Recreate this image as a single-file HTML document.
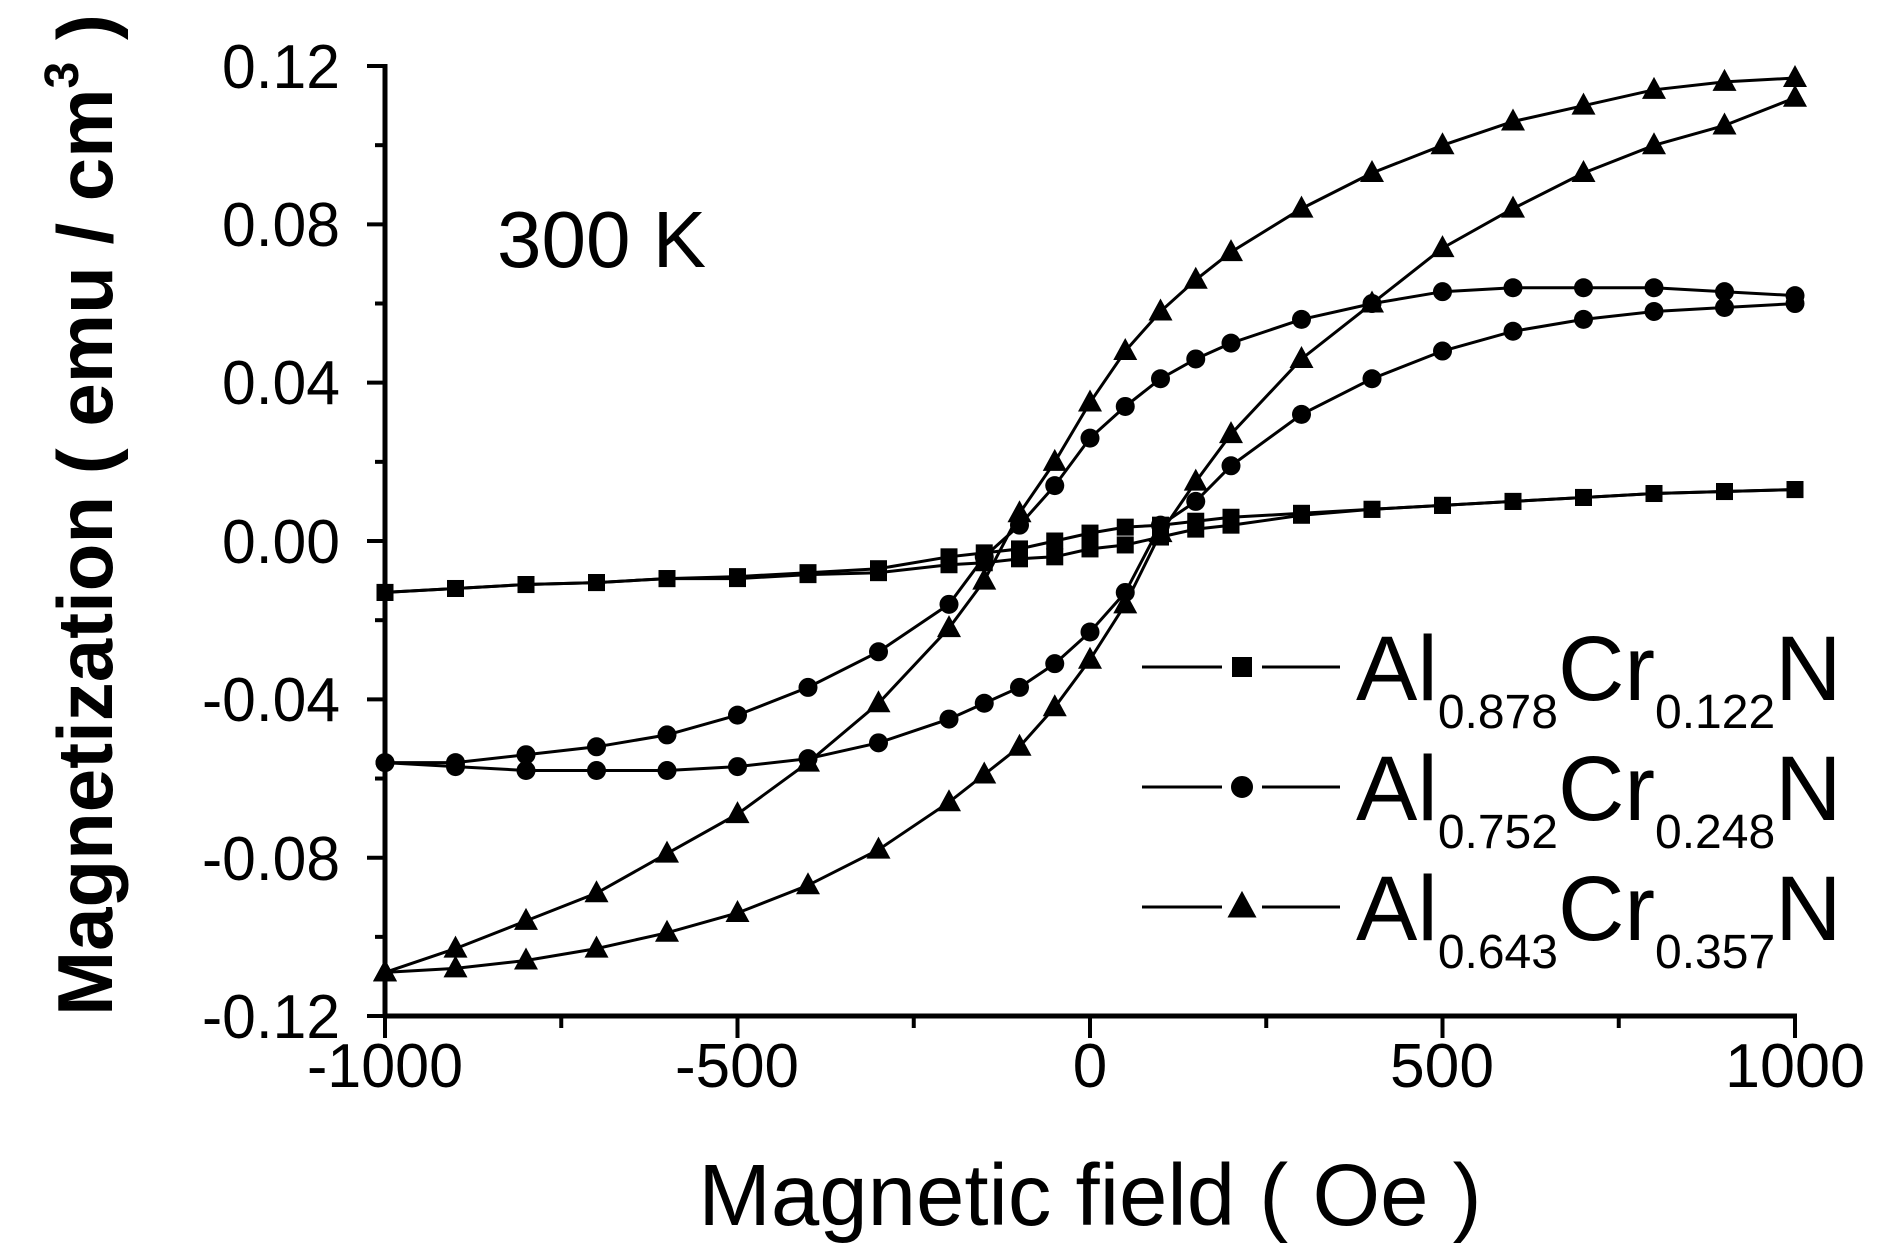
<!DOCTYPE html>
<html><head><meta charset="utf-8"><style>
html,body{margin:0;padding:0;background:#fff;}
svg{display:block;}
text{font-family:"Liberation Sans",sans-serif;fill:#000;}
</style></head><body>
<svg id="s" width="1885" height="1258" xmlns="http://www.w3.org/2000/svg">
<g stroke="#000" stroke-width="5" fill="none">
<line x1="385" y1="64" x2="385" y2="1018"/>
<line x1="383" y1="1016" x2="1797" y2="1016"/>
</g>
<g id="ticks" stroke="#000" stroke-width="4"></g>
<g font-size="62" text-anchor="end">
<text x="340" y="88" textLength="118" lengthAdjust="spacingAndGlyphs">0.12</text>
<text x="340" y="246" textLength="118" lengthAdjust="spacingAndGlyphs">0.08</text>
<text x="340" y="404" textLength="118" lengthAdjust="spacingAndGlyphs">0.04</text>
<text x="340" y="563" textLength="118" lengthAdjust="spacingAndGlyphs">0.00</text>
<text x="340" y="721" textLength="138" lengthAdjust="spacingAndGlyphs">-0.04</text>
<text x="340" y="880" textLength="138" lengthAdjust="spacingAndGlyphs">-0.08</text>
<text x="340" y="1038" textLength="138" lengthAdjust="spacingAndGlyphs">-0.12</text>
</g>
<g font-size="62" text-anchor="middle">
<text x="385" y="1087" textLength="156" lengthAdjust="spacingAndGlyphs">-1000</text>
<text x="737" y="1087" textLength="124" lengthAdjust="spacingAndGlyphs">-500</text>
<text x="1090" y="1087">0</text>
<text x="1442" y="1087" textLength="104" lengthAdjust="spacingAndGlyphs">500</text>
<text x="1795" y="1087" textLength="140" lengthAdjust="spacingAndGlyphs">1000</text>
</g>
<text x="1090" y="1225" font-size="87" text-anchor="middle">Magnetic field ( Oe )</text>
<text transform="translate(112,515) rotate(-90)" font-size="78" font-weight="bold" text-anchor="middle">Magnetization ( emu / cm<tspan font-size="48" dy="-34">3</tspan><tspan dy="34"> )</tspan></text>
<text x="497" y="267" font-size="80">300 K</text>
<g id="data"></g>
<g id="leg" stroke="#000" stroke-width="3"></g>
<g font-size="92">
<text x="1356" y="700">Al<tspan font-size="48" dy="28">0.878</tspan><tspan dy="-28">Cr</tspan><tspan font-size="48" dy="28">0.122</tspan><tspan dy="-28">N</tspan></text>
<text x="1356" y="820">Al<tspan font-size="48" dy="28">0.752</tspan><tspan dy="-28">Cr</tspan><tspan font-size="48" dy="28">0.248</tspan><tspan dy="-28">N</tspan></text>
<text x="1356" y="940">Al<tspan font-size="48" dy="28">0.643</tspan><tspan dy="-28">Cr</tspan><tspan font-size="48" dy="28">0.357</tspan><tspan dy="-28">N</tspan></text>
</g>
</svg>
<script>
var NS="http://www.w3.org/2000/svg";
function X(v){return 385+(v+1000)*0.705;}
function Y(m){return 541-m*3957.5;}
function el(p,t,a){var e=document.createElementNS(NS,t);for(var k in a)e.setAttribute(k,a[k]);p.appendChild(e);return e;}
var tk=document.getElementById('ticks');
for(var i=0;i<=12;i++){var y=66+i*79.17;var L=(i%2==0)?18:10;el(tk,'line',{x1:385-L,y1:y,x2:385,y2:y});}
for(var i=0;i<=8;i++){var x=X(-1000+i*250);var L=(i%2==0)?22:12;el(tk,'line',{x1:x,y1:1016,x2:x,y2:1016+L});}
var xs=[-1000,-900,-800,-700,-600,-500,-400,-300,-200,-150,-100,-50,0,50,100,150,200,300,400,500,600,700,800,900,1000];
var sqU=[-.013,-.012,-.011,-.0105,-.0095,-.009,-.008,-.007,-.004,-.003,-.002,0,.002,.0035,.004,.005,.006,.007,.008,.009,.010,.011,.012,.0125,.013];
var sqL=[-.013,-.012,-.011,-.0105,-.0095,-.0095,-.0085,-.008,-.006,-.0055,-.0045,-.004,-.002,-.001,.001,.003,.004,.0065,.008,.009,.010,.011,.012,.0125,.013];
var ciU=[-.056,-.056,-.054,-.052,-.049,-.044,-.037,-.028,-.016,-.004,.004,.014,.026,.034,.041,.046,.050,.056,.060,.063,.064,.064,.064,.063,.062];
var ciL=[-.056,-.057,-.058,-.058,-.058,-.057,-.055,-.051,-.045,-.041,-.037,-.031,-.023,-.013,.004,.010,.019,.032,.041,.048,.053,.056,.058,.059,.060];
var trU=[-.109,-.103,-.096,-.089,-.079,-.069,-.056,-.041,-.022,-.010,.007,.020,.035,.048,.058,.066,.073,.084,.093,.100,.106,.110,.114,.116,.117];
var trL=[-.109,-.108,-.106,-.103,-.099,-.094,-.087,-.078,-.066,-.059,-.052,-.042,-.030,-.016,.002,.015,.027,.046,.060,.074,.084,.093,.100,.105,.112];
var d=document.getElementById('data');
function marker(p,type,x,y){
 if(type==0)el(p,'rect',{x:x-8.5,y:y-8.5,width:17,height:17,fill:'#000'});
 else if(type==1)el(p,'circle',{cx:x,cy:y,r:9.5,fill:'#000'});
 else el(p,'polygon',{points:(x)+','+(y-13)+' '+(x-12)+','+(y+9)+' '+(x+12)+','+(y+9),fill:'#000'});
}
function series(arr,type){
 var pts=xs.map(function(v,i){return X(v).toFixed(1)+','+Y(arr[i]).toFixed(1);}).join(' ');
 el(d,'polyline',{points:pts,fill:'none',stroke:'#000','stroke-width':3});
 xs.forEach(function(v,i){marker(d,type,X(v),Y(arr[i]));});
}
series(sqU,0);series(sqL,0);series(ciU,1);series(ciL,1);series(trU,2);series(trL,2);
var lg=document.getElementById('leg');
[667,787,907].forEach(function(y,t){
 el(lg,'line',{x1:1142,y1:y,x2:1222,y2:y});
 el(lg,'line',{x1:1262,y1:y,x2:1340,y2:y});
 marker(lg,t,1242,y);
});
</script>
</body></html>
